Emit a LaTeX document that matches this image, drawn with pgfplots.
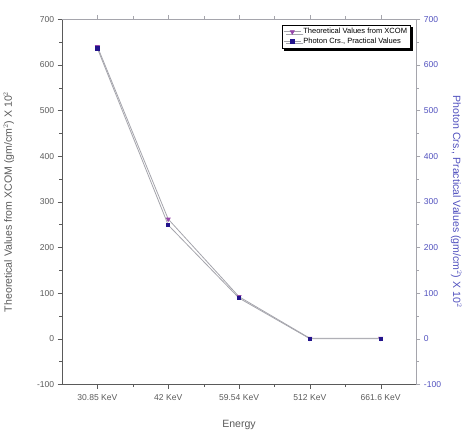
\documentclass[border=0pt]{standalone}
\usepackage{fontspec}
\setmainfont{Liberation Sans}
\usepackage{pgfplots}
\pgfplotsset{compat=1.18}
\usetikzlibrary{shadows}

\definecolor{lineg}{RGB}{165,165,172}
\definecolor{theo}{RGB}{150,70,170}
\definecolor{prac}{RGB}{35,20,140}
\definecolor{rightc}{RGB}{80,80,190}
\definecolor{leftc}{RGB}{90,90,90}

\begin{document}
\begin{tikzpicture}
\pgfplotsset{
  common/.style={
    width=351bp, height=362bp, scale only axis,
    xmin=-0.5, xmax=4.5, ymin=-100, ymax=700,
    ytick={-100,0,...,700},
    minor y tick num=1,
    tick label style={font=\fontsize{8.5}{10}\selectfont},
    label style={font=\fontsize{10.5}{12}\selectfont},
    /pgf/number format/assume math mode=true,
    tick align=outside,
  }
}
\begin{axis}[common,
    axis y line*=left,
    axis x line*=bottom,
    xtick={0,1,2,3,4},
    xticklabels={30.85 KeV, 42 KeV, 59.54 KeV, 512 KeV, 661.6 KeV},
    minor x tick num=1,
    axis line style={leftc},
    tick style={leftc},
    yticklabel style={text=leftc},
    xticklabel style={text=leftc, yshift=-2pt},
    xlabel={Energy},
    ylabel={Theoretical Values from XCOM (gm/cm$^2$) X 10$^2$},
    xlabel style={text=leftc, yshift=-13pt},
    ylabel style={text=leftc, yshift=16pt},
    legend style={at={(rel axis cs:0.985,0.985)}, anchor=north east,
      font=\fontsize{7.5}{8.5}\selectfont, draw=black, fill=white,
      drop shadow={shadow xshift=2.5pt, shadow yshift=-2.5pt, fill=black, opacity=1},
      row sep=-1.5pt, inner sep=1.5pt},
    legend cell align=left,
  ]
\addplot[lineg, thick, mark=triangle*, mark options={rotate=180, fill=theo, draw=theo, scale=1.1}]
  coordinates {(0,640) (1,262) (2,92) (3,1) (4,1)};
\addlegendentry{Theoretical Values from XCOM}
\addlegendimage{lineg, thick, mark=square*, mark options={fill=prac, draw=prac, scale=0.8}}
\addlegendentry{Photon Crs., Practical Values}
\end{axis}
\begin{axis}[common,
    axis y line*=right,
    axis x line*=top,
    xtick={0,1,2,3,4},
    xticklabels={},
    minor x tick num=1,
    axis line style={lineg},
    tick style={lineg},
    yticklabel style={text=rightc},
    ylabel={Photon Crs., Practical Values (gm/cm$^2$) X 10$^2$},
    ylabel style={text=rightc, rotate=180, yshift=3pt},
  ]
\addplot[lineg, thick, mark=square*, mark options={fill=prac, draw=prac, scale=0.8}]
  coordinates {(0,636) (1,249) (2,89) (3,0) (4,0)};
\end{axis}
\path (current axis.north) ++(0,19bp);
\path (current axis.south) ++(0,-53bp);
\end{tikzpicture}
\end{document}
